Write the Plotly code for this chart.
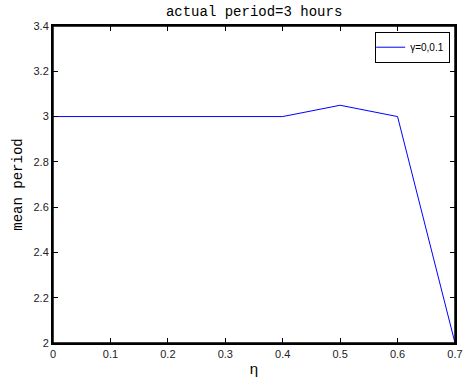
import plotly.graph_objects as go

eta = [0, 0.1, 0.2, 0.3, 0.4, 0.5, 0.6, 0.7]
mean_period = [3, 3, 3, 3, 3, 3.05, 3, 2]
x_ticks = [0, 0.1, 0.2, 0.3, 0.4, 0.5, 0.6, 0.7]
x_tick_labels = ["0", "0.1", "0.2", "0.3", "0.4", "0.5", "0.6", "0.7"]
y_ticks = [2, 2.2, 2.4, 2.6, 2.8, 3, 3.2, 3.4]
y_tick_labels = ["2", "2.2", "2.4", "2.6", "2.8", "3", "3.2", "3.4"]

fig = go.Figure()
fig.add_trace(go.Scatter(x=eta, y=mean_period, mode="lines",
                         line=dict(color="#0000ff", width=1),
                         name="γ=0,0.1", cliponaxis=False))

axis_common = dict(showgrid=False, zeroline=False, showline=True, mirror="ticks",
                   linecolor="black", linewidth=2, ticks="inside", ticklen=5,
                   tickcolor="black", tickwidth=1, automargin=False, layer="above traces",
                   tickfont=dict(family="Liberation Sans, Arial", size=11, color="#222"))

fig.update_layout(
    width=468, height=383,
    paper_bgcolor="white", plot_bgcolor="white",
    margin=dict(l=53, r=13, t=26, b=40, pad=0),
    title=dict(text="actual period=3 hours", x=0.543, xanchor="center", y=0.985, yanchor="top",
               automargin=False,
               font=dict(family="Liberation Mono, Courier New, monospace", size=14, color="black")),
    xaxis=dict(range=[0, 0.7], tickvals=x_ticks, ticktext=x_tick_labels,
               title=dict(text="η", font=dict(family="Liberation Sans, Arial", size=15, color="black"), standoff=4),
               **axis_common),
    yaxis=dict(range=[2, 3.4], tickvals=y_ticks, ticktext=y_tick_labels,
               title=dict(text="mean period", font=dict(family="Liberation Mono, Courier New, monospace", size=14, color="black"), standoff=8),
               **axis_common),
    showlegend=True,
    legend=dict(x=0.988, y=0.982, xanchor="right", yanchor="top",
                bgcolor="white", bordercolor="black", borderwidth=1,
                font=dict(family="Liberation Sans, Arial", size=10, color="black"),
                itemwidth=30, tracegroupgap=0, indentation=-6),
    shapes=[dict(type="rect", xref="paper", yref="paper", x0=0, y0=0, x1=1, y1=1,
                 line=dict(color="black", width=1.5), layer="above")],
)

fig.write_html("out.html", config={"displayModeBar": False},
               post_script="document.body.style.margin='0';document.body.style.overflow='hidden';")
